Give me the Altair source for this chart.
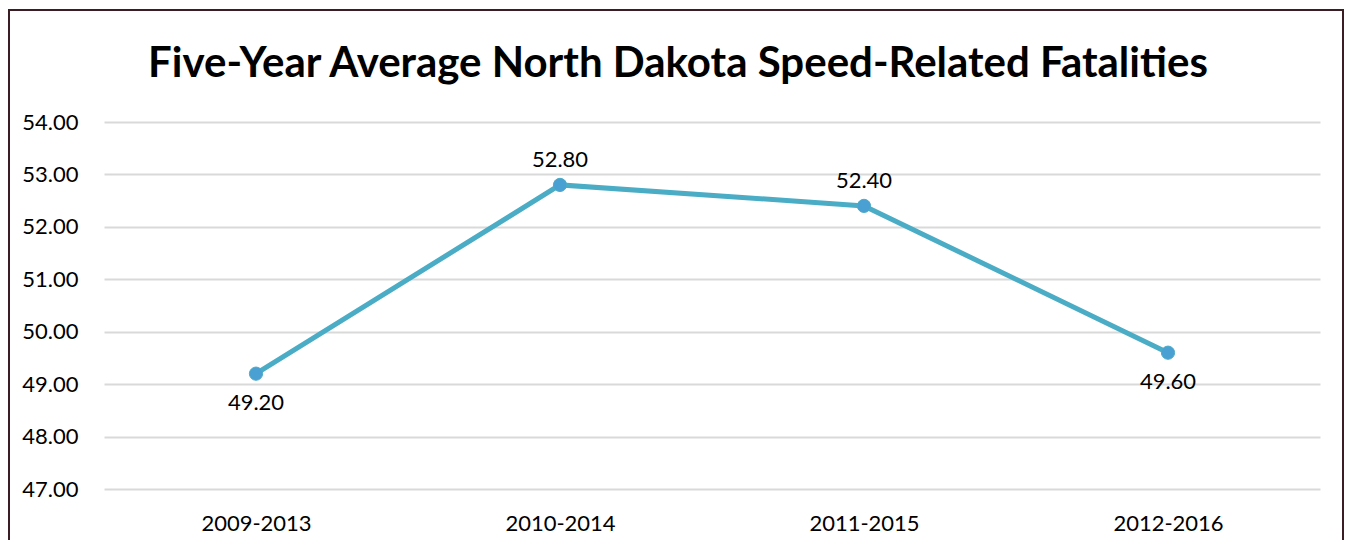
import altair as alt
import pandas as pd

periods = ["2009-2013", "2010-2014", "2011-2015", "2012-2016"]
values = [49.20, 52.80, 52.40, 49.60]
label_pos = ["below", "above", "above", "below"]
y_ticks = [47, 48, 49, 50, 51, 52, 53, 54]
title_text = "Five-Year Average North Dakota Speed-Related Fatalities"

df = pd.DataFrame({"period": periods, "value": values, "pos": label_pos})
one = pd.DataFrame({"a": [0]})

FONT = "Lato"
LINE = "#4BACC6"

x = alt.X("period:N", sort=periods, title=None,
          axis=alt.Axis(labelAngle=0, labelFontSize=22, labelFont=FONT, labelColor="#000000",
                        labelPadding=41, labelBaseline="alphabetic", ticks=False, domain=False,
                        grid=False))
y = alt.Y("value:Q", title=None,
          scale=alt.Scale(domain=[47, 54], nice=False, zero=False),
          axis=alt.Axis(values=y_ticks, format=".2f", labelFontSize=22, labelFont=FONT,
                        labelColor="#000000", labelPadding=26, ticks=False, domain=False,
                        gridColor="#D9D9D9", gridWidth=2))

base = alt.Chart(df)

line = base.mark_line(color=LINE, strokeWidth=5).encode(x=x, y=y)
points = base.mark_point(filled=True, size=175, color="#4AA0D3", opacity=1,
                         stroke=LINE, strokeWidth=1).encode(x=x, y=y)
lab_above = base.transform_filter(alt.datum.pos == "above").mark_text(
    fontSize=22, font=FONT, color="#000000", dy=-18, baseline="alphabetic"
).encode(x=x, y=y, text=alt.Text("value:Q", format=".2f"))
lab_below = base.transform_filter(alt.datum.pos == "below").mark_text(
    fontSize=22, font=FONT, color="#000000", dy=36, baseline="alphabetic"
).encode(x=x, y=y, text=alt.Text("value:Q", format=".2f"))

title = alt.Chart(one).mark_text(
    text=title_text, fontSize=42, fontWeight="bold", font=FONT, color="#000000",
    baseline="alphabetic", align="center"
).encode(x=alt.value(574), y=alt.value(-45))

border = alt.Chart(one).mark_rect(fillOpacity=0, stroke="#3B1E24", strokeWidth=2).encode(
    x=alt.value(-95), x2=alt.value(1239), y=alt.value(-112), y2=alt.value(480))

chart = alt.layer(border, title, line, points, lab_above, lab_below).properties(
    width=1216, height=367,
    autosize=alt.AutoSizeParams(type="none"),
    padding={"left": 96, "top": 114, "right": 24, "bottom": 51},
    background="#FFFFFF",
).configure_view(stroke=None)

chart.save("out.html", embed_options={"renderer": "svg", "actions": False})
